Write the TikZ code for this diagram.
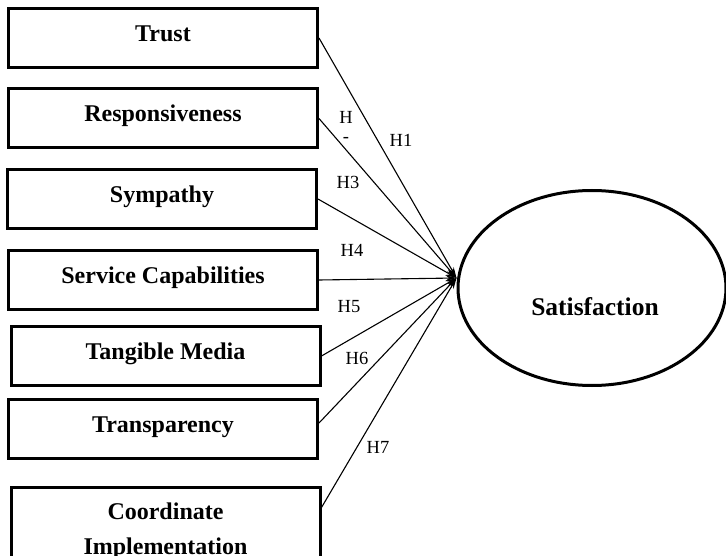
\documentclass[tikz,border=0pt]{standalone}
\usepackage{fontspec}
\setmainfont{Liberation Serif}
\usetikzlibrary{shapes.geometric,arrows.meta,calc}
\tikzset{
  factor/.style={draw, line width=3pt, minimum width=309pt, minimum height=59pt, inner sep=0pt,
    font=\bfseries\fontsize{24}{29}\selectfont, text height=17pt, text depth=10pt},
  link/.style={line width=1.1pt, -{Stealth[length=11pt,width=6pt]}},
  hyp/.style={font=\fontsize{18.5}{19}\selectfont, inner sep=0pt}
}
\begin{document}
\begin{tikzpicture}[x=1pt,y=-1pt]
\useasboundingbox (0,0) rectangle (726,556);
\clip (0,0) rectangle (726,556);
\fill[white] (0,0) rectangle (726,556);
\node[factor] (trust) at (163,38) {Trust};
\node[factor] (resp) at (163,118.5) {Responsiveness};
\node[factor] (symp) at (162,199) {Sympathy};
\node[factor] (serv) at (163,280) {Service Capabilities};
\node[factor] (tang) at (165.5,356) {Tangible Media};
\node[factor] (trans) at (163,429) {Transparency};
\node[draw, line width=3pt, minimum width=309pt, minimum height=89pt, inner sep=0pt, align=center,
  font=\bfseries\fontsize{24}{35}\selectfont] (coord) at (165.5,531.5) {Coordinate\\Implementation};
\node[draw, ellipse, line width=3pt, minimum width=268pt, minimum height=195pt, inner sep=0pt] (sat) at (592,288) {};
\node[font=\bfseries\fontsize{25.5}{30}\selectfont, inner sep=0pt] (sattext) at (595,307) {Satisfaction};
\coordinate (tip) at ([yshift=10pt]sat.west);
\draw[link] (trust.east) -- (tip);
\draw[link] (resp.east) -- (tip);
\draw[link] (symp.east) -- (tip);
\draw[link] (serv.east) -- (tip);
\draw[link] (tang.east) -- (tip);
\draw[link] ([yshift=6pt]trans.east) -- (tip);
\draw[link] ([yshift=24pt]coord.east) -- (tip);
\node[hyp, align=center, font=\fontsize{18.5}{19}\selectfont] (h2) at (346,127) {H\\-};
\node[hyp] (h1) at (401,140) {H1};
\node[hyp] (h3) at (348,182) {H3};
\node[hyp] (h4) at (352,250) {H4};
\node[hyp] (h5) at (349,307) {H5};
\node[hyp] (h6) at (357,358) {H6};
\node[hyp] (h7) at (378,447) {H7};
\end{tikzpicture}
\end{document}
